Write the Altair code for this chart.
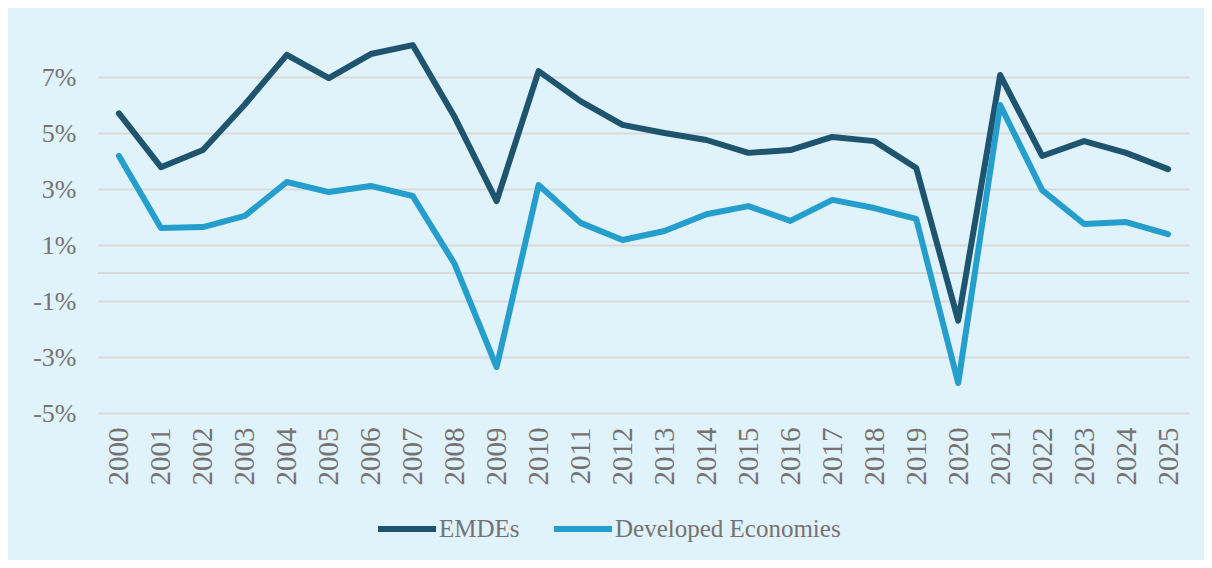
import altair as alt
import pandas as pd

years = [str(y) for y in range(2000, 2026)]
emdes = [5.70, 3.78, 4.39, 6.02, 7.79, 6.96, 7.82, 8.14, 5.57, 2.57, 7.21, 6.14, 5.29,
         5.00, 4.75, 4.29, 4.39, 4.86, 4.71, 3.75, -1.70, 7.07, 4.18, 4.71, 4.29, 3.71]
developed = [4.18, 1.61, 1.64, 2.04, 3.25, 2.89, 3.11, 2.75, 0.32, -3.36, 3.14, 1.79, 1.18,
             1.50, 2.10, 2.39, 1.86, 2.61, 2.32, 1.93, -3.93, 6.00, 2.96, 1.75, 1.82, 1.39]
series_names = ["EMDEs", "Developed Economies"]
series_colors = ["#1e546e", "#249ecc"]
y_ticks = [-5, -3, -1, 1, 3, 5, 7]

rows = []
for name, vals in zip(series_names, [emdes, developed]):
    for y, v in zip(years, vals):
        rows.append({"Year": y, "Series": name, "Value": v})
df = pd.DataFrame(rows)

FONT = "Liberation Serif"
GREY = "#767272"

x_enc = alt.X("Year:N", sort=years, scale=alt.Scale(paddingOuter=0.5, paddingInner=0),
              axis=alt.Axis(title=None, labelAngle=270, labelFontSize=29, labelFont=FONT,
                            labelColor=GREY, ticks=False, domain=False, labelPadding=14,
                            grid=False))
y_scale = alt.Scale(domain=[-5, 9], nice=False)

lines = alt.Chart(df).mark_line(strokeWidth=6, strokeCap="round", strokeJoin="round").encode(
    x=x_enc,
    y=alt.Y("Value:Q", scale=y_scale,
            axis=alt.Axis(title=None, values=y_ticks, labelExpr="datum.value + '%'",
                          labelFontSize=26, labelFont=FONT, labelColor=GREY, ticks=False,
                          domain=False, labelPadding=22, gridColor="#d9d9d9", gridWidth=2)),
    color=alt.Color("Series:N", sort=series_names,
                    scale=alt.Scale(domain=series_names, range=series_colors),
                    legend=alt.Legend(title=None, orient="none", direction="horizontal",
                                      legendX=277, legendY=476, symbolType="stroke",
                                      symbolSize=3364, symbolStrokeWidth=6,
                                      labelFont=FONT, labelFontSize=25, labelColor=GREY,
                                      labelOffset=0, labelLimit=500, columnPadding=22,
                                      padding=0)),
)

zero = alt.Chart(pd.DataFrame({"z": [0]})).mark_rule(color="#d9d9d9", strokeWidth=2).encode(
    y=alt.Y("z:Q", scale=y_scale)
)

chart = alt.layer(zero, lines).properties(
    width=1091, height=392,
    autosize=alt.AutoSizeParams(type="none"),
    padding={"left": 90, "top": 13, "right": 15, "bottom": 147},
    background="#e0f2fa",
).configure_view(stroke=None)

chart.save("out.html", embed_options={"renderer": "svg", "actions": False})
